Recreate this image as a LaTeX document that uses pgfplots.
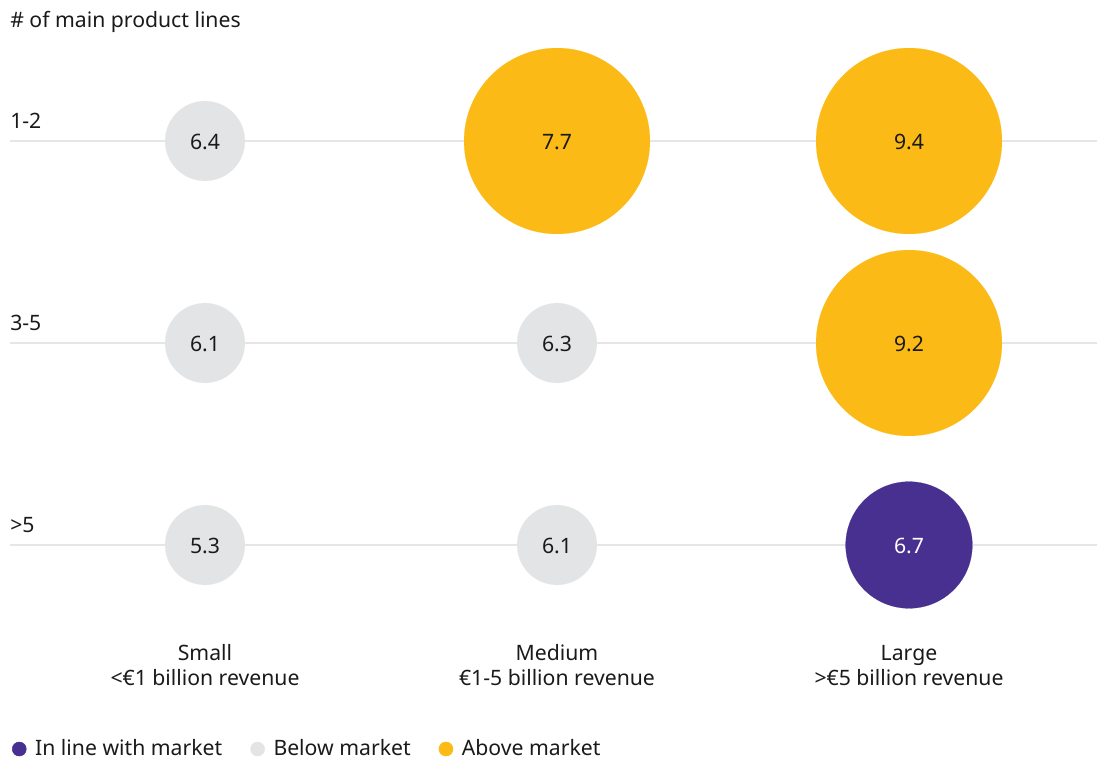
\documentclass[border=0pt]{standalone}
\usepackage{fontspec}
\setmainfont{Noto Sans}
\usepackage{pgfplots}
\pgfplotsset{compat=1.18}
\definecolor{cyellow}{RGB}{251,186,21}
\definecolor{cpurple}{RGB}{71,48,143}
\definecolor{cgray}{RGB}{227,228,230}
\definecolor{cline}{RGB}{230,230,230}
\definecolor{ctext}{RGB}{26,26,26}
\begin{document}
\fontsize{15.9}{18}\selectfont
\begin{tikzpicture}[font=\fontsize{15.9}{18}\selectfont, text=ctext]
\begin{axis}[
  scale only axis, width=822.75pt, height=570pt,
  xmin=-0.58239, xmax=2.53409, ymin=-0.69802, ymax=3.06436,
  y dir=reverse, hide axis, clip=false,
  legend columns=-1,
  legend style={at={(axis cs:-0.5483,3.01)}, anchor=west, draw=none, fill=none,
    inner sep=0pt, outer sep=0pt, font=\fontsize{15.9}{18}\selectfont,
    nodes={inner sep=0pt, text=ctext},
    /tikz/every odd column/.append style={column sep=6.5pt},
    /tikz/every even column/.append style={column sep=21pt}},
  point meta=explicit symbolic,
  nodes near coords,
  nodes near coords align=center,
]
% horizontal guide lines
\addplot[cline, line width=1.5pt, forget plot] coordinates {(-0.554,0) (2.534,0)};
\addplot[cline, line width=1.5pt, forget plot] coordinates {(-0.554,1) (2.534,1)};
\addplot[cline, line width=1.5pt, forget plot] coordinates {(-0.554,2) (2.534,2)};
% In line with market
\addplot[cpurple, only marks, mark=*, mark size=47.5pt, mark options={line width=0.1pt, draw=cpurple, fill=cpurple},
  nodes near coords style={anchor=center, text=white, yshift=-0.8pt},
  legend image code/.code={\fill[cpurple] (0pt,0pt) circle (5.25pt);}]
  coordinates {(2,2)[6.7]};
\addlegendentry{In line with market}
% Below market
\addplot[cgray, only marks, mark=*, mark size=29.9pt, mark options={line width=0.1pt, draw=cgray, fill=cgray},
  nodes near coords style={anchor=center, text=ctext, yshift=-0.8pt},
  legend image code/.code={\fill[cgray] (0pt,0pt) circle (5.25pt);}]
  coordinates {(0,0)[6.4] (0,1)[6.1] (0,2)[5.3] (1,1)[6.3] (1,2)[6.1]};
\addlegendentry{Below market}
% Above market
\addplot[cyellow, only marks, mark=*, mark size=69.7pt, mark options={line width=0.1pt, draw=cyellow, fill=cyellow},
  nodes near coords style={anchor=center, text=ctext, yshift=-0.8pt},
  legend image code/.code={\fill[cyellow] (0pt,0pt) circle (5.25pt);}]
  coordinates {(1,0)[7.7] (2,0)[9.4] (2,1)[9.2]};
\addlegendentry{Above market}
% title and row labels
\node[anchor=base west, inner sep=0pt] at (axis cs:-0.554,-0.564) {\# of main product lines};
\node[anchor=base west, inner sep=0pt] at (axis cs:-0.554,-0.064) {1-2};
\node[anchor=base west, inner sep=0pt] at (axis cs:-0.554,0.936) {3-5};
\node[anchor=base west, inner sep=0pt] at (axis cs:-0.554,1.936) {>5};
% column labels
\node[anchor=base, inner sep=0pt] at (axis cs:0,2.574) {Small};
\node[anchor=base, inner sep=0pt] at (axis cs:0,2.698) {<€1 billion revenue};
\node[anchor=base, inner sep=0pt] at (axis cs:1,2.574) {Medium};
\node[anchor=base, inner sep=0pt] at (axis cs:1,2.698) {€1-5 billion revenue};
\node[anchor=base, inner sep=0pt] at (axis cs:2,2.574) {Large};
\node[anchor=base, inner sep=0pt] at (axis cs:2,2.698) {>€5 billion revenue};
\end{axis}
\pgfresetboundingbox
\path (current axis.south west) rectangle (current axis.north east);
\end{tikzpicture}
\end{document}
